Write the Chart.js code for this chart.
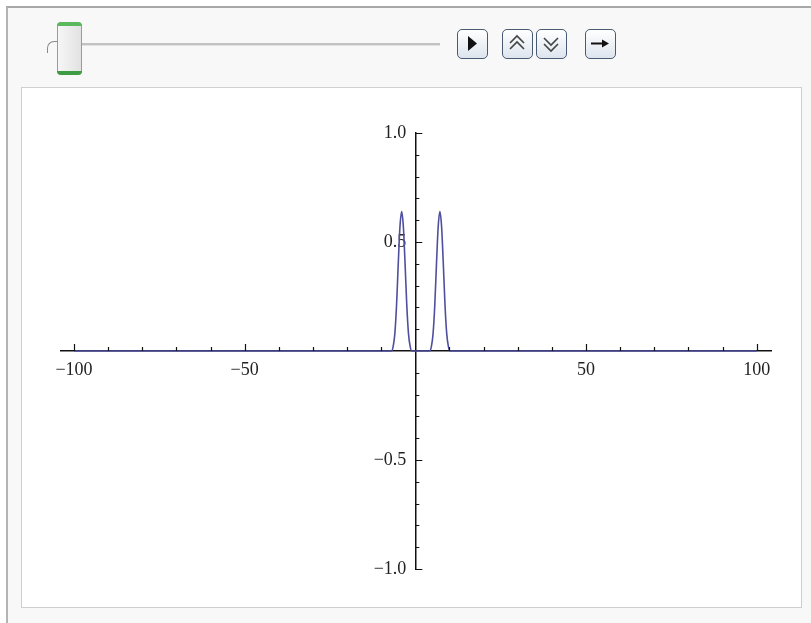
<!DOCTYPE html>
<html>
<head>
<meta charset="utf-8">
<script src="https://cdn.jsdelivr.net/npm/chart.js"></script>
<style>
  html, body { margin: 0; padding: 0; background: #ffffff; }
  body { width: 811px; height: 623px; position: relative; overflow: hidden; }
  .panel {
    position: absolute; left: 6px; top: 6px; right: 0; bottom: 0;
    background: #f8f8f8;
    border-top: 2px solid #a8a8a8;
    border-left: 2px solid #b4b4b4;
  }
  .plotbox {
    position: absolute; left: 21px; top: 87px; width: 779px; height: 519px;
    background: #ffffff; border: 1px solid #cfcfcf;
  }
  .track {
    position: absolute; left: 70px; top: 43px; width: 370px; height: 2px;
    background: #c2c2c2; border-bottom: 1px solid #e2e2e2;
  }
  .hook {
    position: absolute; left: 47px; top: 41px; width: 9px; height: 11px;
    border-left: 1.5px solid #8a8a8a; border-top: 1.5px solid #8a8a8a;
    border-top-left-radius: 7px;
  }
  .knob {
    position: absolute; left: 57px; top: 22px; width: 25px; height: 53px;
    border: 1px solid #9a9a9a; border-radius: 4px;
    background: linear-gradient(to right, #f6f6f6, #e2e2e2);
    box-sizing: border-box;
  }
  .knob::before, .knob::after {
    content: ""; position: absolute; left: -1px; right: -1px; height: 4px; background: #5cb85c;
  }
  .knob::before { top: -1px; border-radius: 4px 4px 0 0; }
  .knob::after { bottom: -1px; border-radius: 0 0 4px 4px; background: #3e9c43; }
  .btn {
    position: absolute; top: 29px; width: 31px; height: 30px;
    border: 1.5px solid #4a5a72; border-radius: 5px;
    background: linear-gradient(to bottom, #ffffff, #dde5ee);
    box-sizing: border-box;
  }
  .btn svg { position: absolute; left: 0; top: 0; }
  canvas { position: absolute; left: 0; top: 0; pointer-events: none; }
</style>
</head>
<body>
<div class="panel"></div>
<div class="plotbox"></div>
<div class="track"></div>
<div class="hook"></div>
<div class="knob"></div>
<div class="btn" style="left:457px">
  <svg width="28" height="27"><polygon points="10,6 19,13.5 10,21" fill="#111"/></svg>
</div>
<div class="btn" style="left:502px">
  <svg width="28" height="27"><polyline points="7,13 14,6 21,13" fill="none" stroke="#444" stroke-width="1.6"/><polyline points="7,19 14,12 21,19" fill="none" stroke="#444" stroke-width="1.6"/></svg>
</div>
<div class="btn" style="left:536px">
  <svg width="28" height="27"><polyline points="7,8 14,15 21,8" fill="none" stroke="#444" stroke-width="1.6"/><polyline points="7,14 14,21 21,14" fill="none" stroke="#444" stroke-width="1.6"/></svg>
</div>
<div class="btn" style="left:585px">
  <svg width="28" height="27"><line x1="5" y1="13.5" x2="17" y2="13.5" stroke="#111" stroke-width="2"/><polygon points="16,9.5 23,13.5 16,17.5" fill="#111"/></svg>
</div>
<canvas id="chart" width="811" height="623"></canvas>
<script>
// curve samples
const xValues = [-100, -8, -7, -6.5, -6, -5.5, -5, -4.5, -4, -3.5, -3, -2.5, -2, -1.5, -1, 0,
                 3, 4.2, 4.7, 5.2, 5.7, 6.2, 6.7, 7.2, 7.7, 8.2, 8.7, 9.2, 9.7, 10.2, 11, 100];
const yValues = [0, 0, 0, 0.02, 0.08, 0.21, 0.40, 0.57, 0.64, 0.57, 0.40, 0.21, 0.08, 0.02, 0, 0,
                 0, 0, 0.02, 0.08, 0.21, 0.40, 0.57, 0.64, 0.57, 0.40, 0.21, 0.08, 0.02, 0, 0, 0];

// axis ticks
const xMajorTicks = [-100, -50, 50, 100];
const xMinorTicks = [-90, -80, -70, -60, -40, -30, -20, -10, 10, 20, 30, 40, 60, 70, 80, 90];
const yMajorTicks = [-1, -0.5, 0.5, 1];
const yMinorTicks = [-0.9, -0.8, -0.7, -0.6, -0.4, -0.3, -0.2, -0.1, 0.1, 0.2, 0.3, 0.4, 0.6, 0.7, 0.8, 0.9];

const fmt = v => (v < 0 ? '\u2212' : '') + Math.abs(v);
// en space at the end keeps the label off the axis (padding is not used for a crossing axis)
const fmtY = v => (v < 0 ? '\u2212' : '') + Math.abs(v).toFixed(1) + '\u2002';

const tickMarks = {
    id: 'tickMarks',
    afterDraw(chart) {
        const { ctx, scales: { x, y } } = chart;
        const y0 = y.getPixelForValue(0);
        const x0 = x.getPixelForValue(0);
        ctx.save();
        ctx.strokeStyle = '#111';
        ctx.lineWidth = 1.2;
        ctx.beginPath();
        xMajorTicks.forEach(v => { const p = Math.round(x.getPixelForValue(v)) + 0.5; ctx.moveTo(p, y0); ctx.lineTo(p, y0 - 7); });
        xMinorTicks.forEach(v => { const p = Math.round(x.getPixelForValue(v)) + 0.5; ctx.moveTo(p, y0); ctx.lineTo(p, y0 - 4); });
        yMajorTicks.forEach(v => { const p = Math.round(y.getPixelForValue(v)) + 0.5; ctx.moveTo(x0, p); ctx.lineTo(x0 + 7, p); });
        yMinorTicks.forEach(v => { const p = Math.round(y.getPixelForValue(v)) + 0.5; ctx.moveTo(x0, p); ctx.lineTo(x0 + 4, p); });
        ctx.stroke();
        ctx.restore();
    }
};

new Chart(document.getElementById('chart'), {
    type: 'line',
    data: {
        datasets: [{
            data: xValues.map((x, i) => ({ x, y: yValues[i] })),
            borderColor: '#4f4f9f',
            borderWidth: 1.6,
            pointRadius: 0,
            cubicInterpolationMode: 'monotone',
            fill: false
        }]
    },
    options: {
        responsive: false,
        animation: false,
        layout: { padding: { left: 61, right: 40, top: 133, bottom: 54 } },
        plugins: { legend: { display: false }, tooltip: { enabled: false } },
        scales: {
            x: {
                type: 'linear',
                min: -103.8,
                max: 104.2,
                position: { y: 0 },
                grid: { display: false, drawTicks: false },
                border: { display: true, color: '#111', width: 1.5 },
                ticks: {
                    stepSize: 50,
                    includeBounds: false,
                    autoSkip: false,
                    maxRotation: 0,
                    padding: 8,
                    color: '#222',
                    font: { family: '"Liberation Serif", serif', size: 18 },
                    callback: v => (xMajorTicks.includes(v) ? fmt(v) : '')
                }
            },
            y: {
                type: 'linear',
                min: -1,
                max: 1,
                position: { x: 0 },
                grid: { display: false, drawTicks: false },
                border: { display: true, color: '#111', width: 1.5 },
                ticks: {
                    stepSize: 0.5,
                    includeBounds: false,
                    autoSkip: false,
                    color: '#222',
                    font: { family: '"Liberation Serif", serif', size: 18 },
                    callback: v => (yMajorTicks.includes(v) ? fmtY(v) : '')
                }
            }
        }
    },
    plugins: [tickMarks]
});
</script>
</body>
</html>
